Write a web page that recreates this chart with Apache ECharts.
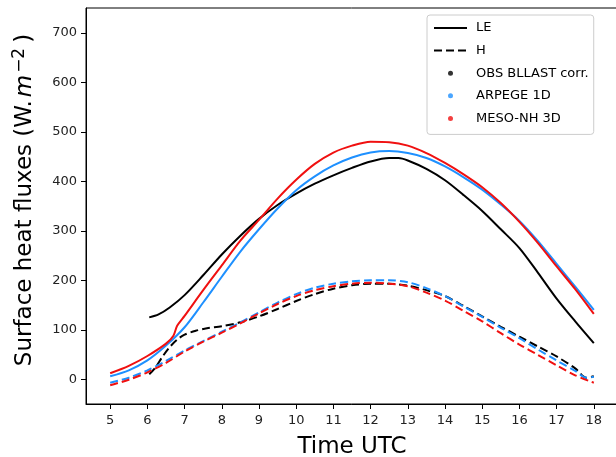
<!DOCTYPE html>
<html>
<head>
<meta charset="utf-8">
<script src="https://cdn.jsdelivr.net/npm/echarts@6/dist/echarts.min.js"></script>
<style>
  html, body { margin: 0; padding: 0; background: #fff; }
  #chart { width: 616px; height: 457px; }
</style>
</head>
<body>
<div id="chart"></div>
<script>
// ticks
const xTicks = [5, 6, 7, 8, 9, 10, 11, 12, 13, 14, 15, 16, 17, 18];
const yTicks = [0, 100, 200, 300, 400, 500, 600, 700];

// OBS BLLAST corr. (black)
const obsTimeLE = [6.05, 6.3, 6.6, 7, 7.5, 8, 8.5, 9, 9.5, 10, 10.5, 11, 11.5, 12, 12.5, 12.75, 13, 13.5, 14, 14.5, 15, 15.5, 16, 16.5, 17, 17.5, 18];
const obsLE = [125, 131, 145, 170, 210, 252, 290, 324, 352, 375, 395, 412, 427, 440, 447, 447, 442, 425, 402, 372, 340, 303, 265, 215, 163, 117, 73];
const obsTimeH = [6.05, 6.2, 6.4, 6.6, 6.8, 7, 7.3, 7.6, 8, 8.5, 9, 9.5, 10, 10.5, 11, 11.5, 12, 12.5, 13, 13.5, 14, 14.5, 15, 15.5, 16, 16.5, 17, 17.5, 17.8, 18];
const obsH = [10, 22, 45, 65, 80, 90, 98, 103, 107, 115, 127, 142, 158, 172, 183, 190, 193, 193, 189, 180, 168, 148, 127, 106, 86, 66, 46, 22, 3, 6];

// ARPEGE 1D (blue)
const arpTime = [5, 5.5, 6, 6.5, 7, 7.5, 8, 8.5, 9, 9.5, 10, 10.5, 11, 11.5, 12, 12.5, 13, 13.5, 14, 14.5, 15, 15.5, 16, 16.5, 17, 17.5, 18];
const arpLE = [6, 18, 38, 68, 105, 155, 207, 258, 303, 345, 382, 410, 432, 448, 458, 461, 457, 447, 430, 408, 383, 353, 320, 279, 233, 187, 140];
const arpTimeH = [5, 5.5, 6, 6.5, 7, 7.5, 8, 8.5, 9, 9.5, 10, 10.5, 11, 11.5, 12, 12.5, 13, 13.5, 14, 14.5, 15, 15.5, 16, 16.5, 17, 17.5, 17.8, 18];
const arpH = [-7, 3, 18, 37, 58, 77, 96, 115, 135, 155, 172, 185, 193, 198, 200, 200, 196, 184, 168, 147, 126, 104, 83, 60, 38, 17, 3, 5];

// MESO-NH 3D (red)
const mnhTime = [5, 5.5, 6, 6.5, 6.7, 6.8, 7, 7.5, 8, 8.5, 9, 9.5, 10, 10.5, 11, 11.5, 12, 12.5, 13, 13.5, 14, 14.5, 15, 15.5, 16, 16.5, 17, 17.5, 18];
const mnhLE = [12, 27, 47, 72, 88, 108, 128, 180, 230, 280, 322, 365, 403, 435, 458, 472, 480, 479, 472, 457, 437, 414, 388, 356, 318, 275, 228, 182, 132];
const mnhTimeH = [5, 5.5, 6, 6.5, 7, 7.5, 8, 8.5, 9, 9.5, 10, 10.5, 11, 11.5, 12, 12.5, 13, 13.5, 14, 14.5, 15, 15.5, 16, 16.5, 17, 17.5, 18];
const mnhH = [-12, -1, 14, 33, 56, 76, 94, 113, 133, 152, 168, 180, 188, 193, 195, 193, 188, 175, 159, 138, 117, 93, 70, 49, 28, 8, -7];

const zip = (xs, ys) => xs.map((x, i) => [x, ys[i]]);

const BLACK = '#000000';
const BLUE = '#1e90ff';
const RED = '#f01010';
const FONT = 'DejaVu Sans';

const lineSeries = (name, xs, ys, color, dashed) => ({
    name: name,
    type: 'line',
    data: zip(xs, ys),
    smooth: 0.3,
    symbol: 'none',
    lineStyle: { color: color, width: 2, type: dashed ? [8, 4] : 'solid' },
    itemStyle: { color: color },
    animation: false,
});

// legend-only entries (dots)
const dotSeries = (name, color) => ({
    name: name,
    type: 'scatter',
    data: [],
    itemStyle: { color: color },
});

const chart = echarts.init(document.getElementById('chart'));
chart.setOption({
    animation: false,
    textStyle: { fontFamily: FONT },
    grid: {
        left: 86,
        right: -2,
        top: 8,
        bottom: 53,
        outerBoundsMode: 'none',
        show: true,
        borderColor: '#000',
        borderWidth: 1,
    },
    legend: {
        orient: 'vertical',
        left: 427,
        top: 15,
        padding: [5, 5, 8, 6],
        itemWidth: 33,
        itemHeight: 5,
        itemGap: 6.6,
        backgroundColor: 'rgba(255,255,255,0.8)',
        borderColor: '#cccccc',
        borderWidth: 1,
        borderRadius: 3,
        textStyle: { fontFamily: FONT, fontSize: 13, color: '#000', lineHeight: 16, padding: [0, 0, 0, 4] },
        data: [
            { name: 'LE', itemStyle: { opacity: 0 } },
            { name: 'H', itemStyle: { opacity: 0 } },
            { name: 'OBS BLLAST corr.', icon: 'circle' },
            { name: 'ARPEGE 1D', icon: 'circle' },
            { name: 'MESO-NH 3D', icon: 'circle' },
        ],
    },
    xAxis: {
        type: 'value',
        min: 4.35,
        max: 18.65,
        name: 'Time UTC',
        nameLocation: 'middle',
        nameGap: 32,
        nameTextStyle: { fontFamily: FONT, fontSize: 23, color: '#000' },
        splitLine: { show: false },
        axisLine: { onZero: false, lineStyle: { color: '#000', width: 1 } },
        axisTick: { show: true, length: 5, lineStyle: { color: '#000' }, customValues: xTicks },
        axisLabel: { fontFamily: FONT, fontSize: 13, color: '#222', margin: 10, customValues: xTicks },
    },
    yAxis: {
        type: 'value',
        min: -50,
        max: 750,
        name: '{a|Surface heat fluxes (W.}{i|m}{s|−2}{p|)}',
        nameLocation: 'middle',
        nameGap: 49,
        nameTextStyle: {
            fontFamily: FONT,
            color: '#000',
            padding: [0, 0, 0, 12],
            rich: {
                a: { fontFamily: FONT, fontSize: 23, lineHeight: 26, verticalAlign: 'bottom', color: '#000' },
                i: { fontFamily: FONT, fontSize: 23, lineHeight: 26, verticalAlign: 'bottom', fontStyle: 'italic', color: '#000', padding: [0, 1, 0, 3] },
                s: { fontFamily: FONT, fontSize: 17, lineHeight: 17, verticalAlign: 'top', color: '#000', padding: [0, 3, 0, 1] },
                p: { fontFamily: FONT, fontSize: 23, lineHeight: 26, verticalAlign: 'bottom', color: '#000', padding: [0, 0, 0, 2] },
            },
        },
        splitLine: { show: false },
        axisLine: { onZero: false, lineStyle: { color: '#000', width: 1 } },
        axisTick: { show: true, length: 5, lineStyle: { color: '#000' }, customValues: yTicks },
        axisLabel: { fontFamily: FONT, fontSize: 13, color: '#222', margin: 9, customValues: yTicks },
    },
    series: [
        lineSeries('LE', obsTimeLE, obsLE, BLACK, false),
        lineSeries('H', obsTimeH, obsH, BLACK, true),
        lineSeries('ARPEGE LE', arpTime, arpLE, BLUE, false),
        lineSeries('ARPEGE H', arpTimeH, arpH, BLUE, true),
        lineSeries('MESO-NH LE', mnhTime, mnhLE, RED, false),
        lineSeries('MESO-NH H', mnhTimeH, mnhH, RED, true),
        dotSeries('OBS BLLAST corr.', BLACK),
        dotSeries('ARPEGE 1D', BLUE),
        dotSeries('MESO-NH 3D', RED),
    ],
});
</script>
</body>
</html>
